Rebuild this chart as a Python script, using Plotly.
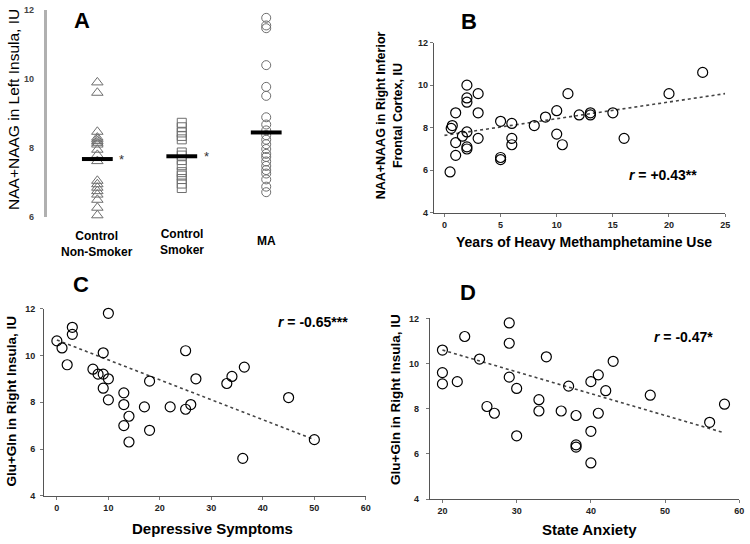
import plotly.graph_objects as go

W, H = 750, 544
FONT = "Liberation Sans, Arial, sans-serif"

# ---------------- Data ----------------
groups_A = ["Control<br>Non-Smoker", "Control<br>Smoker", "MA"]
nonsmoker_A = [9.9, 9.6, 8.47, 8.3, 8.25, 8.2, 8.15, 8.1, 7.95, 7.8, 7.62,
               7.05, 6.95, 6.85, 6.75, 6.65, 6.5, 6.27, 6.05]
smoker_A = [8.73, 8.6, 8.45, 8.35, 8.25, 7.87, 7.78, 7.65, 7.5, 7.3, 7.2,
            7.1, 6.97, 6.84]
ma_A = [11.77, 11.55, 11.47, 10.4, 9.77, 9.51, 8.89, 8.68, 8.51, 8.37, 8.24,
        8.11, 7.97, 7.83, 7.74, 7.61, 7.48, 7.36, 7.26, 7.09, 6.88, 6.72]
means_A = [7.68, 7.76, 8.45]
yticks_A = [6, 8, 10, 12]

years_B = [0.5, 0.6, 0.7, 1.0, 1.0, 1.0, 1.6, 2, 2, 2, 2, 2, 2, 3, 3, 3, 5, 5, 5,
           6, 6, 6, 8, 9, 10, 10, 10.5, 11, 12, 13, 13, 15, 16, 20, 23]
naa_B = [5.92, 7.97, 8.1, 6.7, 7.3, 8.7, 7.6, 10.0, 9.4, 9.2, 7.8, 7.1, 7.0,
         9.6, 8.7, 7.5, 8.3, 6.6, 6.5, 8.2, 7.5, 7.2, 8.1, 8.5, 8.8, 7.7, 7.2,
         9.6, 8.6, 8.7, 8.6, 8.7, 7.5, 9.6, 10.6]
trend_B_x = [0, 25]
trend_B_y = [7.64, 9.6]

dep_C = [0, 1, 2, 3, 3, 7, 8, 9, 9, 9, 10, 10, 10, 13, 13, 13, 14, 14, 17, 18,
         18, 22, 25, 25, 26, 27, 33, 34, 36.4, 36.1, 45, 50]
glx_C = [10.62, 10.32, 9.6, 11.2, 10.9, 9.41, 9.2, 10.11, 9.2, 8.6, 11.8, 9.0,
         8.1, 8.4, 7.9, 7.0, 7.4, 6.3, 7.8, 8.9, 6.8, 7.8, 10.2, 7.7, 7.9, 9.0,
         8.8, 9.1, 9.5, 5.6, 8.2, 6.4]
trend_C_x = [0, 50]
trend_C_y = [10.66, 6.4]

anx_D = [20, 20, 20, 22, 23, 25, 26, 27, 29, 29, 29, 30, 30, 33, 33, 34, 36, 37,
         38, 38, 38, 40, 40, 40, 41, 41, 42, 43, 48, 56, 58]
glx_D = [10.6, 9.6, 9.1, 9.2, 11.2, 10.2, 8.1, 7.8, 11.8, 10.9, 9.4, 8.9, 6.8,
         8.4, 7.9, 10.3, 7.9, 9.0, 7.7, 6.4, 6.3, 9.2, 7.0, 5.6, 9.5, 7.8, 8.8,
         10.1, 8.6, 7.4, 8.2]
trend_D_x = [20, 58]
trend_D_y = [10.6, 6.93]

# ---------------- Layout helpers ----------------
def xd(p0, p1):
    return [p0 / W, p1 / W]

def yd(top, bottom):
    return [1 - bottom / H, 1 - top / H]

fig = go.Figure()

# Panel A
gx = [1, 2, 3]
A_sym = ["triangle-up-open", "square-open", "circle-open"]
for i, vals in enumerate([nonsmoker_A, smoker_A, ma_A]):
    fig.add_trace(go.Scatter(
        x=[gx[i]] * len(vals), y=vals, mode="markers",
        marker=dict(symbol=A_sym[i], size=9 if i else 10, color="#6e6e6e",
                    line=dict(width=1, color="#6e6e6e")),
        xaxis="x", yaxis="y", showlegend=False, cliponaxis=False))
fig.add_trace(go.Scatter(
    x=gx, y=means_A, mode="markers",
    marker=dict(symbol="line-ew", size=22, line=dict(width=4, color="black")),
    xaxis="x", yaxis="y", showlegend=False, cliponaxis=False))

# Panels B, C, D
def scat(x, y, ax):
    fig.add_trace(go.Scatter(
        x=x, y=y, mode="markers",
        marker=dict(symbol="circle-open", size=10, color="black",
                    line=dict(width=1.2, color="black")),
        xaxis="x" + ax, yaxis="y" + ax, showlegend=False, cliponaxis=False))

def trend(x, y, ax):
    fig.add_trace(go.Scatter(
        x=x, y=y, mode="lines",
        line=dict(color="#444", width=1.6, dash="dot"),
        xaxis="x" + ax, yaxis="y" + ax, showlegend=False))

trend(trend_B_x, trend_B_y, "2")
scat(years_B, naa_B, "2")
trend(trend_C_x, trend_C_y, "3")
scat(dep_C, glx_C, "3")
trend(trend_D_x, trend_D_y, "4")
scat(anx_D, glx_D, "4")

tickfb = dict(family=FONT, size=9, color="#222", weight="bold")

common_x = dict(showgrid=False, zeroline=False, showline=True,
                linecolor="#555", linewidth=1, ticks="outside", ticklen=3,
                tickcolor="#777", tickfont=tickfb)
common_y = dict(showgrid=False, zeroline=False, showline=True,
                linecolor="#555", linewidth=1, ticks="outside", ticklen=3,
                tickcolor="#777", tickfont=tickfb, range=[4, 12],
                tickvals=[4, 6, 8, 10, 12])

fig.update_layout(
    width=W, height=H, margin=dict(l=0, r=0, t=0, b=0),
    paper_bgcolor="white", plot_bgcolor="white",
    font=dict(family=FONT, color="black"),
    xaxis=dict(domain=xd(47, 344.5), range=[0.4, 3.9], showgrid=False,
               zeroline=False, showline=False, showticklabels=False,
               anchor="y"),
    yaxis=dict(domain=yd(5, 216), range=[6, 12], tickvals=yticks_A,
               showgrid=False, zeroline=False, showline=True,
               linecolor="#b0b0b0", linewidth=2.5, ticks="",
               tickfont=dict(family=FONT, size=9, color="#444", weight="bold"),
               ticklabelstandoff=8, anchor="x"),
    xaxis2=dict(domain=xd(436.7, 730), range=[-0.95, 25],
                tickvals=[0, 5, 10, 15, 20, 25], anchor="y2", **common_x),
    yaxis2=dict(domain=yd(38.3, 211.7), anchor="x2", **common_y),
    xaxis3=dict(domain=xd(44.3, 368.3), range=[-2.5, 60],
                tickvals=[0, 10, 20, 30, 40, 50, 60], anchor="y3", **common_x),
    yaxis3=dict(domain=yd(309.3, 500), anchor="x3", ticklabelstandoff=3,
                **common_y),
    xaxis4=dict(domain=xd(432.7, 744.3), range=[18.3, 60],
                tickvals=[20, 30, 40, 50, 60], anchor="y4", **common_x),
    yaxis4=dict(domain=yd(319.3, 503.3), anchor="x4", ticklabelstandoff=5,
                **common_y),
)

ann = []

def pa(text, x, y, size, bold=True, angle=0, color="black"):
    ann.append(dict(text=text, x=x / W, y=1 - y / H, xref="paper",
                    yref="paper", showarrow=False, textangle=angle,
                    xanchor="center", yanchor="middle",
                    font=dict(family=FONT, size=size, color=color,
                              weight="bold" if bold else "normal")))

# Panel letters
pa("A", 83, 16, 22)
pa("B", 472, 17, 22)
pa("C", 82, 285, 22)
pa("D", 471, 293, 22)

# Axis titles
pa("NAA+NAAG in Left Insula, IU", 13, 106, 15.5, bold=False, angle=-90)
pa("NAA+NAAG in Right Inferior<br>Frontal Cortex, IU", 392, 112, 12.5, angle=-90)
pa("Years of Heavy Methamphetamine Use", 588, 241, 14)
pa("Glu+Gln in Right Insula, IU", 12, 403, 13.5, angle=-90)
pa("Depressive Symptoms", 214, 533, 15)
pa("Glu+Gln in Right Insula, IU", 398, 402, 13.5, angle=-90)
pa("State Anxiety", 593, 534, 15)

# Correlation labels
pa("<i>r</i> = +0.43**", 667, 173, 14)
pa("<i>r</i> = -0.65***", 315, 323, 14)
pa("<i>r</i> = -0.47*", 688, 338, 14)

# Group labels for A (anchored to category positions)
ys = [243, 241, 240]
for i, g in enumerate(groups_A):
    ann.append(dict(text=g, x=gx[i], y=1 - ys[i] / H, xref="x", yref="paper",
                    showarrow=False, xanchor="center", yanchor="middle",
                    font=dict(family=FONT, size=12, weight="bold")))

# Significance stars in A
for i in range(2):
    ann.append(dict(text="*", x=gx[i] + 0.29, y=means_A[i] - 0.02, xref="x",
                    yref="y", showarrow=False,
                    font=dict(family=FONT, size=13, color="#333")))

fig.update_layout(annotations=ann)
fig.write_html(
    "out.html",
    config={"displayModeBar": False},
    post_script="document.body.style.margin='0';"
                "document.documentElement.style.overflow='hidden';",
)
